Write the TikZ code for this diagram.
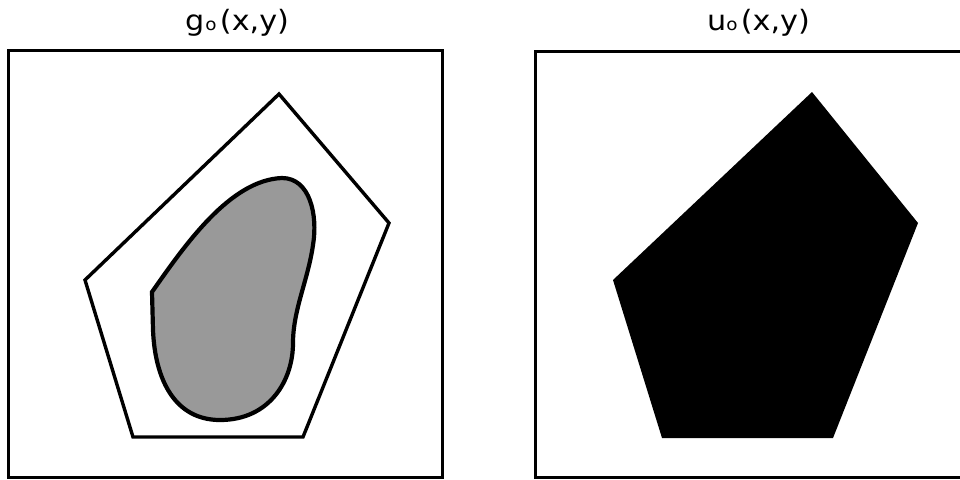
\documentclass[tikz,border=0pt]{standalone}
\usepackage{fontspec}
\setmainfont{DejaVu Sans}
\begin{document}
\begin{tikzpicture}[x=1pt,y=-1pt,
  frame/.style={draw=black,line width=3pt},
  pent/.style={draw=black,line width=3.4pt,line join=miter},
  blob/.style={draw=black,line width=4.2pt,fill=black!40,line join=miter},
  solidpent/.style={fill=black},
  title/.style={anchor=base west,inner sep=0pt,xscale=1.08,font=\fontsize{28}{28}\selectfont}]
\useasboundingbox (0,0) rectangle (960,479);
\clip (0,0) rectangle (960,479);
% titles
\node[title] (tg) at (185,30) {g\kern1pt{\fontsize{17}{17}\selectfont o}\kern3pt(x,y)};
\node[title] (tu) at (707,30) {u{\fontsize{17}{17}\selectfont o}\kern3pt(x,y)};
% frames
\draw[frame] (8,50) rectangle (442,477);
\draw[frame] (535,51) rectangle (969,477);
% left pentagon outline
\draw[pent] (279,94) -- (389,223) -- (303,437) -- (133,437) -- (85,280) -- cycle;
% blob
\draw[blob] (152,292)
  .. controls (185,245) and (230,180) .. (282,178)
  .. controls (310,178) and (318,215) .. (313,245)
  .. controls (308,280) and (293,310) .. (293,343)
  .. controls (293,380) and (270,420) .. (220,420)
  .. controls (175,420) and (155,380) .. (153,330)
  -- cycle;
% right solid pentagon
\fill[solidpent] (812,92) -- (918,223) -- (833,438) -- (662,438) -- (613,280) -- cycle;
\end{tikzpicture}
\end{document}
